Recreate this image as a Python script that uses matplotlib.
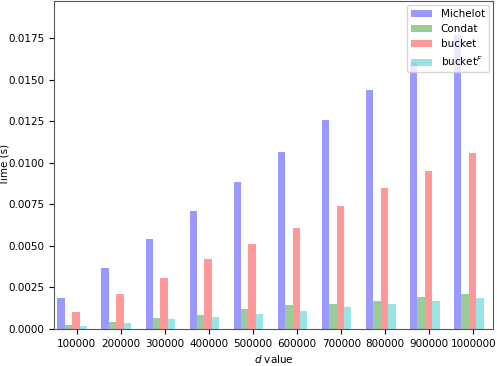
import numpy as np
import matplotlib
matplotlib.use("Agg")
import matplotlib.pyplot as plt

d_values = ["100000", "200000", "300000", "400000", "500000",
            "600000", "700000", "800000", "900000", "1000000"]
michelot = [0.00186, 0.00365, 0.00541, 0.00710, 0.00884, 0.01067, 0.01259, 0.01440, 0.01604, 0.01770]
condat = [0.00026, 0.00042, 0.00064, 0.00087, 0.00118, 0.00147, 0.00149, 0.00168, 0.00192, 0.00213]
bucket = [0.00102, 0.00210, 0.00305, 0.00423, 0.00510, 0.00610, 0.00740, 0.00848, 0.00954, 0.01058]
bucket_f = [0.00020, 0.00038, 0.00058, 0.00075, 0.00093, 0.00111, 0.00132, 0.00150, 0.00171, 0.00186]

series = [(michelot, "Michelot", "b"), (condat, "Condat", "g"),
          (bucket, "bucket", "r"), (bucket_f, "bucket$^F$", "c")]

plt.rcParams['font.size'] = 7.5
fig = plt.figure(figsize=(4.97, 3.66), dpi=100)
ax = fig.add_axes([0.1087, 0.101, 0.8833, 0.8976])

x = np.arange(len(d_values))
w = 0.168
for i, (vals, lab, col) in enumerate(series):
    ax.bar(x - 0.103 + (i - 1.5) * w, vals, w, color=col, alpha=0.4, label=lab)

ax.set_xticks(x)
ax.set_xticklabels(d_values)
ax.set_xlim(-0.515, 9.445)
ax.set_ylim(0, 0.01977)
ticks = np.arange(0, 0.0176, 0.0025)
ax.set_yticks(ticks)
ax.set_yticklabels([f"{v:.4f}" for v in ticks])
ax.set_xlabel("$d$ value", labelpad=3)
ax.set_ylabel("Time (s)")
ax.yaxis.set_label_coords(-0.102, 0.5)
for s in ax.spines.values():
    s.set_color("#555555")
ax.legend(loc="upper right", fontsize=7.5, borderaxespad=0.4)

fig.savefig("out.png", dpi=100)
